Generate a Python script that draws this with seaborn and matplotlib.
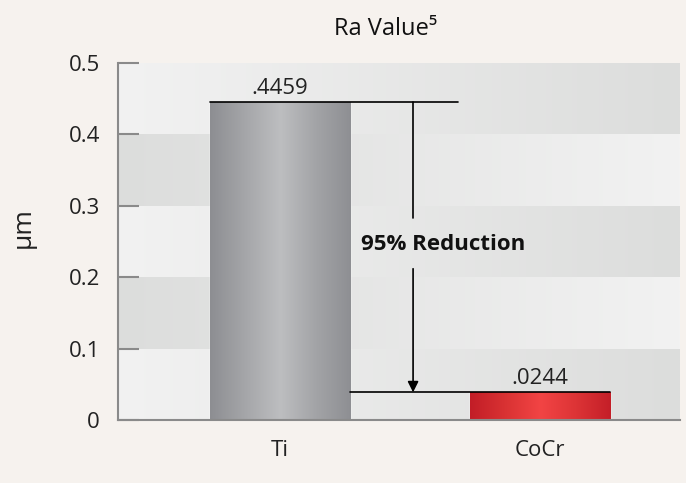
import numpy as np
import pandas as pd
import matplotlib
matplotlib.use("Agg")
import matplotlib.pyplot as plt
from matplotlib.colors import LinearSegmentedColormap
import seaborn as sns

# values
materials = ["Ti", "CoCr"]
ra_values = [0.4459, 0.039]
value_labels = [".4459", ".0244"]
y_ticks = [0, 0.1, 0.2, 0.3, 0.4, 0.5]
y_tick_labels = ["0", "0.1", "0.2", "0.3", "0.4", "0.5"]
reduction_text = "95% Reduction"

bg = "#f6f2ee"
sns.set_theme(style="white")
plt.rcParams["font.family"] = ["Open Sans", "DejaVu Sans"]

fig = plt.figure(figsize=(6.86, 4.83), dpi=100, facecolor=bg)
ax = fig.add_axes([0.172, 0.130, 0.819, 0.7396])
ax.set_facecolor("#e8e8e8")

df = pd.DataFrame({"material": materials, "ra": ra_values})
sns.barplot(data=df, x="material", y="ra", ax=ax, width=0.54,
            color="#a0a1a4", saturation=1, zorder=3)

xlim = (-0.623, 1.538)
ax.set_xlim(*xlim)
ax.set_ylim(0, 0.5)

# horizontal bands with alternating gradient direction
band_cmap = LinearSegmentedColormap.from_list("band", ["#f2f2f2", "#dcdddc"])
grad = np.linspace(0, 1, 256).reshape(1, -1)
for i in range(5):
    g = grad if i % 2 == 0 else grad[:, ::-1]
    ax.imshow(g, cmap=band_cmap, aspect="auto", zorder=0,
              extent=[xlim[0], xlim[1], i * 0.1, (i + 1) * 0.1])

# metallic gradients on the bars
bar_cmaps = [
    LinearSegmentedColormap.from_list("ti", ["#8d8e92", "#a5a6a9", "#bdbec0", "#a3a4a7", "#8e8f93"]),
    LinearSegmentedColormap.from_list("cocr", ["#c21d27", "#d93233", "#f24444", "#dd3436", "#c41f28"]),
]
for patch, cm in zip(ax.patches, bar_cmaps):
    x0, y0 = patch.get_x(), patch.get_y()
    w, h = patch.get_width(), patch.get_height()
    im = ax.imshow(grad, cmap=cm, aspect="auto", zorder=4,
                   extent=[x0, x0 + w, y0, y0 + h])
    im.set_clip_path(patch)

ax.set_xlim(*xlim)
ax.set_ylim(0, 0.5)

# value labels
for patch, lab in zip(ax.patches, value_labels):
    ax.text(patch.get_x() + patch.get_width() / 2, patch.get_height() + 0.004, lab,
            ha="center", va="bottom", fontsize=16, color="#222222", zorder=6)

# reduction annotation
ti_bar, co_bar = ax.patches[0], ax.patches[1]
ax.plot([ti_bar.get_x(), 0.685], [ra_values[0]] * 2, color="black", lw=1.2, zorder=5)
ax.plot([ti_bar.get_x() + ti_bar.get_width(), co_bar.get_x() + co_bar.get_width()],
        [ra_values[1]] * 2, color="black", lw=1.2, zorder=5)
arrow_x = 0.512
ax.plot([arrow_x, arrow_x], [ra_values[0], 0.283], color="black", lw=1.2, zorder=5)
ax.annotate("", xy=(arrow_x, ra_values[1]), xytext=(arrow_x, 0.212),
            arrowprops=dict(arrowstyle="-|>", color="black", lw=1.2,
                            mutation_scale=16, shrinkA=0, shrinkB=0), zorder=5)
ax.text(0.312, 0.246, reduction_text, fontsize=16, fontweight="bold",
        ha="left", va="center", color="#111111", zorder=6)

ax.set_yticks(y_ticks)
ax.set_yticklabels(y_tick_labels)
ax.tick_params(axis="y", direction="in", length=15, width=1.5, color="#8a8a8a",
               pad=13, labelsize=16, labelcolor="#222222", left=True)
ax.tick_params(axis="x", length=0, pad=14, labelsize=16, labelcolor="#222222")
ax.set_xlabel("")
ax.set_ylabel("µm", fontsize=19, color="#222222")
ax.yaxis.set_label_coords(-0.147, 0.54)
ax.set_title("Ra Value⁵", fontsize=17, color="#111111", pad=20, x=0.477)

sns.despine(ax=ax, top=True, right=True)
for s in ["left", "bottom"]:
    ax.spines[s].set_color("#8a8a8a")
    ax.spines[s].set_linewidth(1.5)
    ax.spines[s].set_zorder(6)

fig.savefig("out.png", dpi=100, facecolor=bg)
